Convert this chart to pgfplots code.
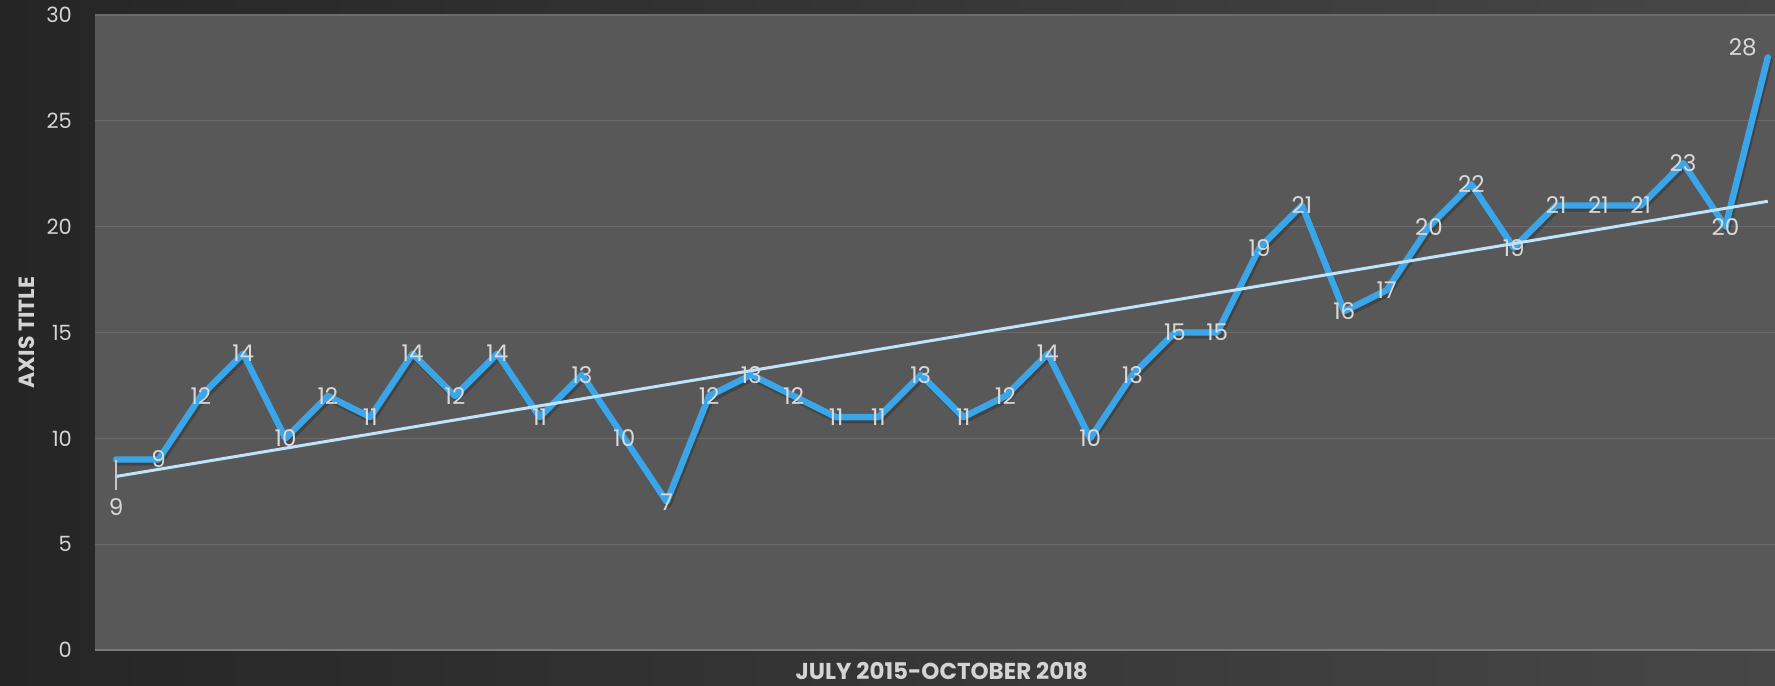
\documentclass[border=0pt]{standalone}
\usepackage{pgfplots}
\pgfplotsset{compat=1.18}
\usepackage{pgfplotstable}
\usepackage{fontspec}
\setmainfont{Poppins}
\definecolor{bgL}{HTML}{252525}
\definecolor{bgR}{HTML}{474747}
\definecolor{plotbg}{HTML}{585858}
\definecolor{gridc}{HTML}{6C6C6C}
\definecolor{axisc}{HTML}{7A7A7A}
\definecolor{linec}{HTML}{3AA5E8}
\definecolor{trendc}{HTML}{BEE3FA}
\definecolor{labc}{HTML}{D9D9D9}
\definecolor{tickc}{HTML}{D4D4D4}

\pgfplotstableread{
x y
0 9
1 9
2 12
3 14
4 10
5 12
6 11
7 14
8 12
9 14
10 11
11 13
12 10
13 7
14 12
15 13
16 12
17 11
18 11
19 13
20 11
21 12
22 14
23 10
24 13
25 15
26 15
27 19
28 21
29 16
30 17
31 20
32 22
33 19
34 21
35 21
36 21
37 23
38 20
39 28
}\datatable

\pgfplotstableread{
x y
1 9
2 12
3 14
4 10
5 12
6 11
7 14
8 12
9 14
10 11
11 13
12 10
13 7
14 12
15 13
16 12
17 11
18 11
19 13
20 11
21 12
22 14
23 10
24 13
25 15
26 15
27 19
28 21
29 16
30 17
31 20
32 22
33 19
34 21
35 21
36 21
37 23
38 20
}\midlabels

\begin{document}
\begin{tikzpicture}
\useasboundingbox (0,0) rectangle (887.5pt,342.5pt);
\shade[left color=bgL, right color=bgR] (0,0) rectangle (887.5pt,342.5pt);
\begin{axis}[
  at={(47.5pt,17.5pt)}, anchor=south west,
  scale only axis, width=840pt, height=317.5pt,
  xmin=-0.5, xmax=39.17, ymin=0, ymax=30,
  axis background/.style={fill=plotbg},
  axis x line*=bottom, axis y line*=left,
  x axis line style={draw=axisc, line width=0.8pt, -},
  y axis line style={draw=none},
  ytick={0,5,...,30}, xtick=\empty,
  ymajorgrids, grid style={gridc, line width=0.6pt},
  major tick length=0pt,
  /pgf/number format/assume math mode=true,
  yticklabel style={font=\fontsize{10.5}{12}\selectfont, text=tickc, xshift=-8pt},
  xlabel={JULY 2015-OCTOBER 2018},
  xlabel style={at={(axis description cs:0.504,0)}, anchor=center, yshift=-10.5pt,
    font=\fontsize{11.5}{13}\selectfont\bfseries, text=tickc},
  ylabel={AXIS TITLE},
  ylabel style={at={(axis description cs:-0.0405,0.5)}, anchor=center,
    font=\fontsize{11}{13}\selectfont\bfseries, text=tickc},
  clip=false,
]
% shadow
\addplot[black, opacity=0.22, line width=3.2pt, line join=round, line cap=round, yshift=-1.5pt, xshift=0.8pt]
  table[x=x,y=y] {\datatable};
% main line
\addplot[linec, line width=3.2pt, line join=round, line cap=round]
  table[x=x,y=y] {\datatable};
% trend line
\addplot[trendc, line width=1.5pt] coordinates {(0,8.2) (39,21.2)};
% leader line of first label
\addplot[labc!80!gray, line width=0.7pt] coordinates {(0,9.0) (0,7.55)};
% data labels
\addplot[draw=none, nodes near coords,
  every node near coord/.append style={anchor=center, text=labc, font=\fontsize{11.5}{13}\selectfont}]
  table[x=x,y=y] {\midlabels};
\addplot[draw=none, nodes near coords,
  every node near coord/.append style={anchor=center, text=labc, font=\fontsize{11.5}{13}\selectfont, yshift=-24pt}]
  coordinates {(0,9)};
\addplot[draw=none, nodes near coords,
  every node near coord/.append style={anchor=center, text=labc, font=\fontsize{11.5}{13}\selectfont, xshift=-12.5pt, yshift=5pt}]
  coordinates {(39,28)};
\end{axis}
\end{tikzpicture}
\end{document}
